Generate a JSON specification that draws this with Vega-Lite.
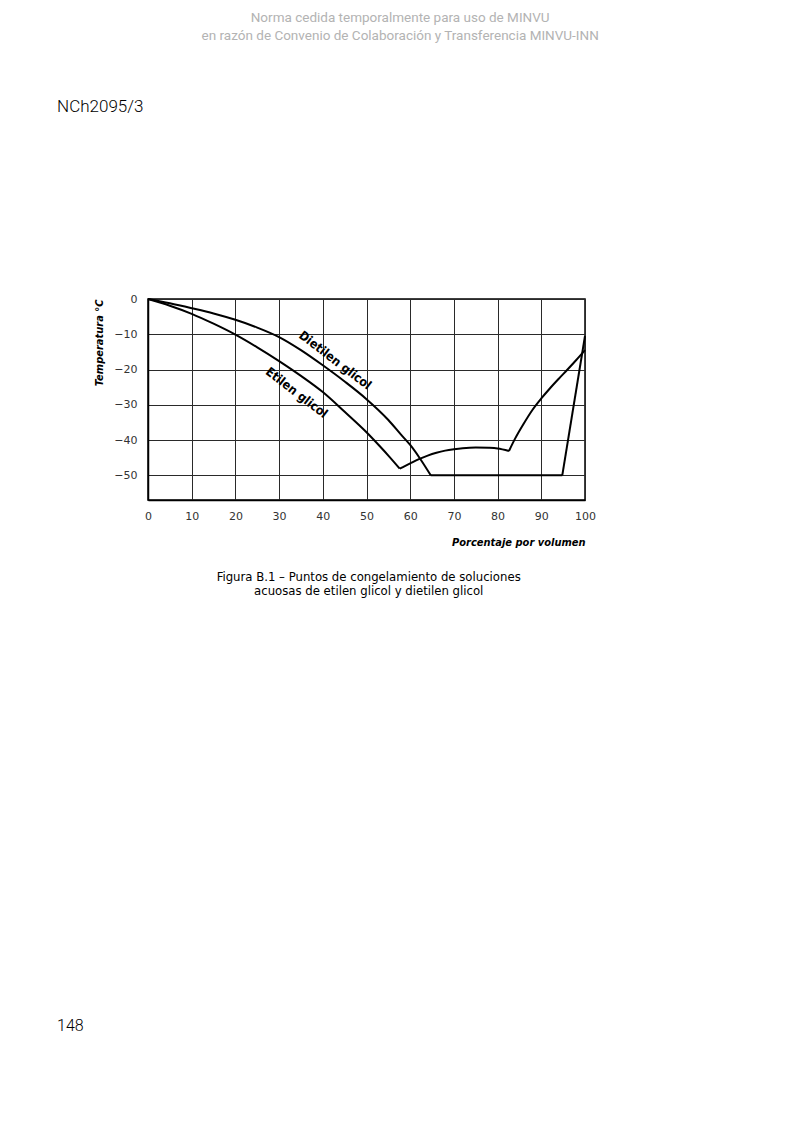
{
  "$schema": "https://vega.github.io/schema/vega-lite/v6.json",
  "width": 437,
  "height": 201,
  "autosize": {"type": "none"},
  "padding": {"left": 148, "top": 299, "right": 215, "bottom": 631},
  "background": "white",
  "config": {
    "view": {"stroke": "black", "strokeWidth": 1.5},
    "font": "DejaVu Sans Condensed"
  },
  "datasets": {
    "curves": [
      {"series": "Etilen glicol", "segment": "E1", "pct": 0, "temp": 0},
      {"series": "Etilen glicol", "segment": "E1", "pct": 5, "temp": -1.9},
      {"series": "Etilen glicol", "segment": "E1", "pct": 10, "temp": -4.2},
      {"series": "Etilen glicol", "segment": "E1", "pct": 15, "temp": -7.0},
      {"series": "Etilen glicol", "segment": "E1", "pct": 20, "temp": -10.1},
      {"series": "Etilen glicol", "segment": "E1", "pct": 25, "temp": -13.7},
      {"series": "Etilen glicol", "segment": "E1", "pct": 30, "temp": -17.6},
      {"series": "Etilen glicol", "segment": "E1", "pct": 35, "temp": -21.8},
      {"series": "Etilen glicol", "segment": "E1", "pct": 40, "temp": -26.4},
      {"series": "Etilen glicol", "segment": "E1", "pct": 45, "temp": -32.0},
      {"series": "Etilen glicol", "segment": "E1", "pct": 50, "temp": -37.8},
      {"series": "Etilen glicol", "segment": "E1", "pct": 53, "temp": -41.7},
      {"series": "Etilen glicol", "segment": "E1", "pct": 55, "temp": -44.4},
      {"series": "Etilen glicol", "segment": "E1", "pct": 57.6, "temp": -48.1},
      {"series": "Etilen glicol", "segment": "E2", "pct": 57.6, "temp": -48.1},
      {"series": "Etilen glicol", "segment": "E2", "pct": 60, "temp": -46.6},
      {"series": "Etilen glicol", "segment": "E2", "pct": 62, "temp": -45.4},
      {"series": "Etilen glicol", "segment": "E2", "pct": 64, "temp": -44.4},
      {"series": "Etilen glicol", "segment": "E2", "pct": 66, "temp": -43.6},
      {"series": "Etilen glicol", "segment": "E2", "pct": 68, "temp": -43.0},
      {"series": "Etilen glicol", "segment": "E2", "pct": 70, "temp": -42.6},
      {"series": "Etilen glicol", "segment": "E2", "pct": 72, "temp": -42.3},
      {"series": "Etilen glicol", "segment": "E2", "pct": 75, "temp": -42.1},
      {"series": "Etilen glicol", "segment": "E2", "pct": 78, "temp": -42.2},
      {"series": "Etilen glicol", "segment": "E2", "pct": 80, "temp": -42.4},
      {"series": "Etilen glicol", "segment": "E2", "pct": 82.6, "temp": -43.1},
      {"series": "Etilen glicol", "segment": "E3", "pct": 82.6, "temp": -43.1},
      {"series": "Etilen glicol", "segment": "E3", "pct": 84, "temp": -39.6},
      {"series": "Etilen glicol", "segment": "E3", "pct": 86, "temp": -35.3},
      {"series": "Etilen glicol", "segment": "E3", "pct": 88, "temp": -31.4},
      {"series": "Etilen glicol", "segment": "E3", "pct": 90, "temp": -28.2},
      {"series": "Etilen glicol", "segment": "E3", "pct": 92, "temp": -25.3},
      {"series": "Etilen glicol", "segment": "E3", "pct": 94, "temp": -22.6},
      {"series": "Etilen glicol", "segment": "E3", "pct": 96, "temp": -20.0},
      {"series": "Etilen glicol", "segment": "E3", "pct": 98, "temp": -17.3},
      {"series": "Etilen glicol", "segment": "E3", "pct": 100, "temp": -14.5},
      {"series": "Dietilen glicol", "segment": "D1", "pct": 0, "temp": 0},
      {"series": "Dietilen glicol", "segment": "D1", "pct": 5, "temp": -1.2},
      {"series": "Dietilen glicol", "segment": "D1", "pct": 10, "temp": -2.6},
      {"series": "Dietilen glicol", "segment": "D1", "pct": 15, "temp": -4.1},
      {"series": "Dietilen glicol", "segment": "D1", "pct": 20, "temp": -5.9},
      {"series": "Dietilen glicol", "segment": "D1", "pct": 25, "temp": -8.1},
      {"series": "Dietilen glicol", "segment": "D1", "pct": 30, "temp": -10.8},
      {"series": "Dietilen glicol", "segment": "D1", "pct": 35, "temp": -14.5},
      {"series": "Dietilen glicol", "segment": "D1", "pct": 40, "temp": -18.8},
      {"series": "Dietilen glicol", "segment": "D1", "pct": 45, "temp": -23.4},
      {"series": "Dietilen glicol", "segment": "D1", "pct": 50, "temp": -28.4},
      {"series": "Dietilen glicol", "segment": "D1", "pct": 55, "temp": -34.3},
      {"series": "Dietilen glicol", "segment": "D1", "pct": 58, "temp": -38.6},
      {"series": "Dietilen glicol", "segment": "D1", "pct": 60, "temp": -41.4},
      {"series": "Dietilen glicol", "segment": "D1", "pct": 62, "temp": -44.8},
      {"series": "Dietilen glicol", "segment": "D1", "pct": 64.7, "temp": -50},
      {"series": "Dietilen glicol", "segment": "D2", "pct": 64.7, "temp": -50},
      {"series": "Dietilen glicol", "segment": "D2", "pct": 94.8, "temp": -50},
      {"series": "Dietilen glicol", "segment": "D3", "pct": 94.8, "temp": -50},
      {"series": "Dietilen glicol", "segment": "D3", "pct": 100, "temp": -10.5}
    ],
    "labels": [
      {"label": "Dietilen glicol", "pct": 42.8, "temp": -17.4},
      {"label": "Etilen glicol", "pct": 34.0, "temp": -26.6}
    ],
    "header": [
      {"text": "Norma cedida temporalmente para uso de MINVU\nen razón de Convenio de Colaboración y Transferencia MINVU-INN"}
    ],
    "caption": [
      {"text": "Figura B.1 – Puntos de congelamiento de soluciones\nacuosas de etilen glicol y dietilen glicol"}
    ],
    "docid": [{"text": "NCh2095/3"}],
    "pagenum": [{"text": "148"}]
  },
  "layer": [
    {
      "data": {"name": "curves"},
      "mark": {"type": "line", "color": "black", "strokeWidth": 2, "interpolate": "monotone"},
      "encoding": {
        "x": {
          "field": "pct", "type": "quantitative",
          "scale": {"domain": [0, 100], "nice": false, "zero": false},
          "axis": {
            "values": [0, 10, 20, 30, 40, 50, 60, 70, 80, 90, 100],
            "grid": true, "gridColor": "#2a2a2a", "gridWidth": 1,
            "domain": true, "domainColor": "black", "domainWidth": 1.5,
            "ticks": false, "labelPadding": 10, "labelFontSize": 11,
            "labelColor": "#333", "labelFont": "DejaVu Sans", "labelFlush": false,
            "title": "Porcentaje por volumen", "titleAnchor": "end",
            "titleFontStyle": "italic", "titleFontWeight": "bold", "titleFontSize": 11,
            "titlePadding": 15, "titleColor": "black"
          }
        },
        "y": {
          "field": "temp", "type": "quantitative",
          "scale": {"domain": [-57, 0], "nice": false, "zero": false},
          "axis": {
            "values": [0, -10, -20, -30, -40, -50],
            "grid": true, "gridColor": "#2a2a2a", "gridWidth": 1,
            "domain": true, "domainColor": "black", "domainWidth": 1.5,
            "ticks": false, "labelPadding": 11, "labelFontSize": 11,
            "labelColor": "#333", "labelFont": "DejaVu Sans",
            "title": "Temperatura °C", "titleAnchor": "end",
            "titleFontStyle": "italic", "titleFontWeight": "bold", "titleFontSize": 11,
            "titlePadding": 9, "titleColor": "black"
          }
        },
        "detail": {"field": "segment", "type": "nominal"}
      }
    },
    {
      "data": {"name": "labels"},
      "mark": {"type": "text", "angle": 37.5, "fontSize": 12.5, "fontWeight": "bold", "font": "DejaVu Sans Condensed", "color": "black", "align": "center", "baseline": "middle"},
      "encoding": {
        "x": {"field": "pct", "type": "quantitative"},
        "y": {"field": "temp", "type": "quantitative"},
        "text": {"field": "label"}
      }
    },
    {
      "data": {"name": "header"},
      "mark": {"type": "text", "font": "Roboto", "fontSize": 13.5, "color": "#b3b3b3", "align": "center", "baseline": "top", "lineBreak": "\n", "lineHeight": 18},
      "encoding": {
        "x": {"datum": 57.7, "type": "quantitative"},
        "y": {"datum": 81.6, "type": "quantitative"},
        "text": {"field": "text"}
      }
    },
    {
      "data": {"name": "caption"},
      "mark": {"type": "text", "font": "DejaVu Sans Condensed", "fontSize": 13, "color": "black", "align": "center", "baseline": "top", "lineBreak": "\n", "lineHeight": 14},
      "encoding": {
        "x": {"datum": 50.5, "type": "quantitative"},
        "y": {"datum": -77.0, "type": "quantitative"},
        "text": {"field": "text"}
      }
    },
    {
      "data": {"name": "docid"},
      "mark": {"type": "text", "font": "Roboto", "fontSize": 17, "fontWeight": 300, "color": "black", "align": "left", "baseline": "middle"},
      "encoding": {
        "x": {"datum": -20.8, "type": "quantitative"},
        "y": {"datum": 54.5, "type": "quantitative"},
        "text": {"field": "text"}
      }
    },
    {
      "data": {"name": "pagenum"},
      "mark": {"type": "text", "font": "Roboto", "fontSize": 16, "fontWeight": 300, "color": "black", "align": "left", "baseline": "middle"},
      "encoding": {
        "x": {"datum": -20.8, "type": "quantitative"},
        "y": {"datum": -206.2, "type": "quantitative"},
        "text": {"field": "text"}
      }
    }
  ]
}
